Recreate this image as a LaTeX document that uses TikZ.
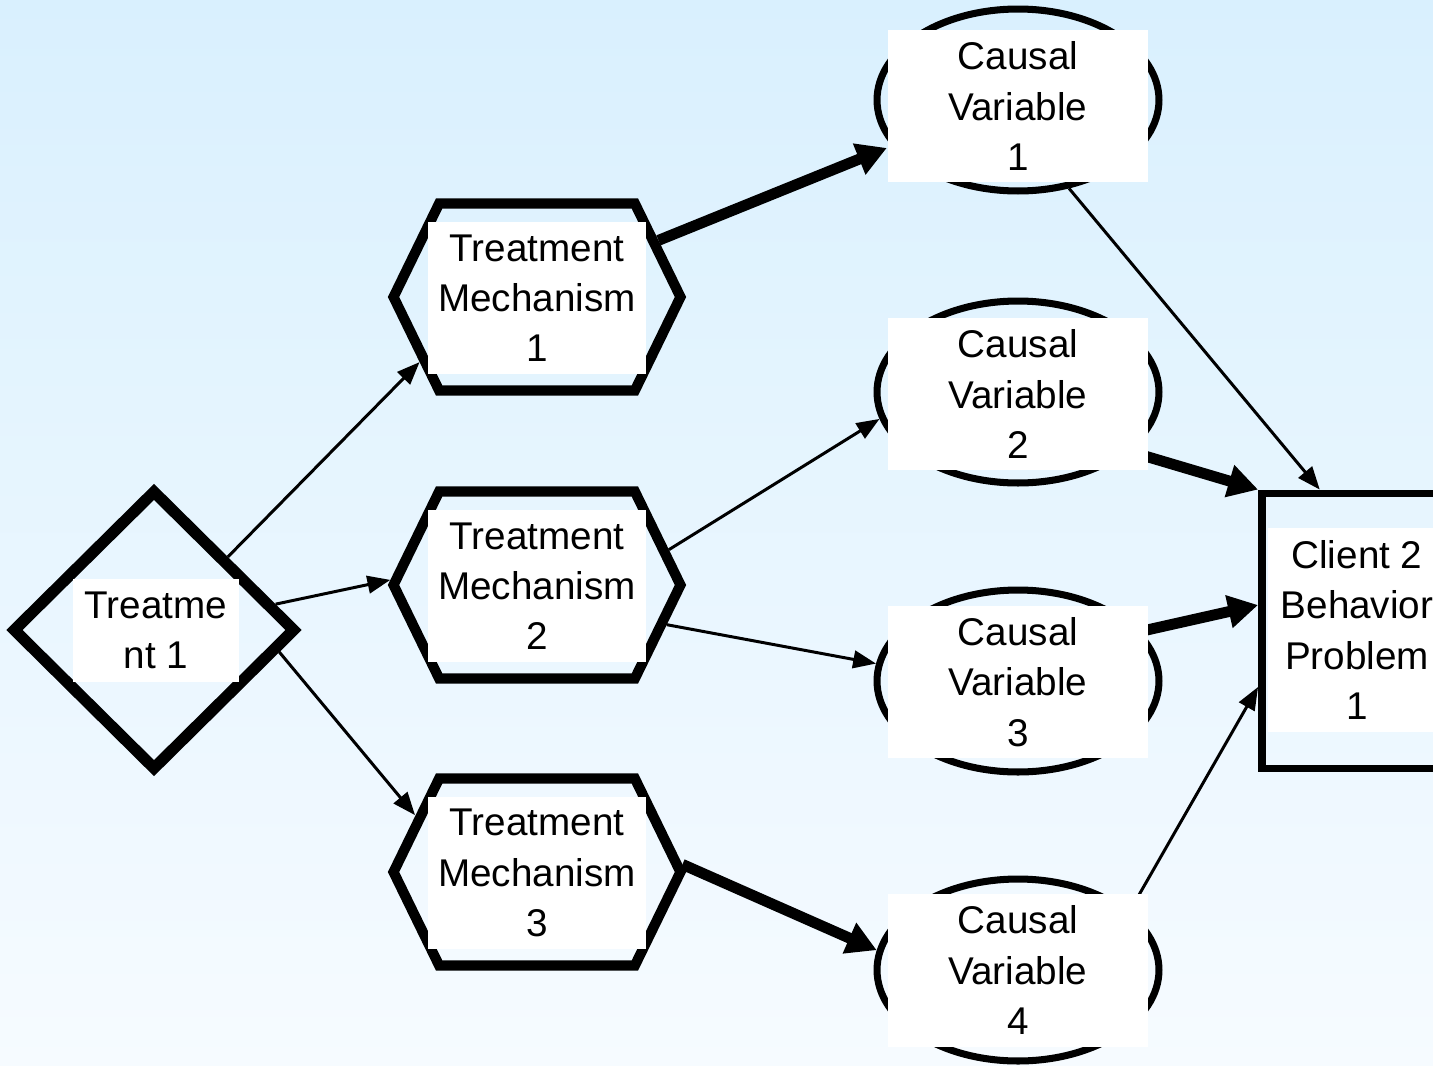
\documentclass[tikz,border=0pt]{standalone}
\usepackage{fontspec}
\setmainfont{Liberation Sans}
\usetikzlibrary{shapes.geometric,shapes.symbols,arrows.meta}

\definecolor{skytop}{RGB}{217,240,254}
\definecolor{skybottom}{RGB}{246,251,255}

\tikzset{
  treatshape/.style={draw, diamond, line width=6.5pt, minimum width=5.68cm, minimum height=5.62cm, inner sep=0pt},
  mechshape/.style={draw, signal, signal to=east and west, signal pointer angle=128, line width=5.8pt, minimum width=5.74cm, minimum height=3.74cm, inner sep=0pt},
  causeshape/.style={draw, ellipse, line width=4pt, minimum width=5.64cm, minimum height=3.64cm, inner sep=0pt},
  problemshape/.style={draw, rectangle, line width=4.5pt, minimum width=3.72cm, minimum height=5.5cm, inner sep=0pt},
  textbox/.style={fill=white, inner sep=0pt, align=center, font=\fontsize{22}{28.6}\selectfont},
  treatbox/.style={textbox, minimum width=3.32cm, minimum height=2.06cm},
  mechbox/.style={textbox, minimum width=4.38cm, minimum height=3.06cm},
  causebox/.style={textbox, minimum width=5.22cm, minimum height=3.06cm},
  problembox/.style={textbox, minimum width=3.56cm, minimum height=4.08cm},
  thinarrow/.style={-{Triangle[length=13pt,width=10pt]}, line width=1.7pt},
  thickarrow/.style={-{Triangle[length=17pt,width=18pt]}, line width=6.2pt},
}

\begin{document}
\begin{tikzpicture}[x=0.02cm, y=-0.02cm]
  % Background
  \useasboundingbox (0,0) rectangle (1433,1065);
  \clip (0,0) rectangle (1433,1065);
  \shade[top color=skytop, bottom color=skybottom] (0,0) rectangle (1433,1065);

  % Shapes
  \node[treatshape] (t1) at (154,630) {};
  \node[mechshape] (tm1) at (537,297) {};
  \node[mechshape] (tm2) at (537,585) {};
  \node[mechshape] (tm3) at (537,872) {};
  \node[causeshape] (cv1) at (1018,100) {};
  \node[causeshape] (cv2) at (1018,392) {};
  \node[causeshape] (cv3) at (1018,681) {};
  \node[causeshape] (cv4) at (1018,970) {};
  \node[problemshape] (cbp) at (1355,631) {};

  % Treatment to mechanisms
  \draw[thinarrow] (t1.north east) -- (tm1.209);
  \draw[thinarrow] (t1.12) -- (tm2.178);
  \draw[thinarrow] (t1.-10) -- (tm3.155);

  % Mechanisms to causal variables
  \draw[thickarrow, shorten >=3pt] (tm1.25.8) -- (cv1.200);
  \draw[thinarrow] (tm2.15.8) -- (cv2.191.6);
  \draw[thinarrow] (tm2.-17) -- (cv3.173.6);
  \draw[thickarrow] (tm3.3) -- (cv4.172);

  % Causal variables to problem
  \draw[thinarrow] (cv1.-60) -- (cbp.104);
  \draw[thickarrow] (cv2.-28.5) -- (cbp.north west);
  \draw[thickarrow] (cv3.22) -- (cbp.165);
  \draw[thinarrow] (cv4.28) -- (cbp.210.4);

  % Labels
  \node[treatbox] (t1-text) at (156,630) {Treatme\\nt 1};
  \node[mechbox] (tm1-text) at (537,298) {Treatment\\Mechanism\\1};
  \node[mechbox] (tm2-text) at (537,586) {Treatment\\Mechanism\\2};
  \node[mechbox] (tm3-text) at (537,873) {Treatment\\Mechanism\\3};
  \node[causebox] (cv1-text) at (1018,106) {Causal\\Variable\\1};
  \node[causebox] (cv2-text) at (1018,394) {Causal\\Variable\\2};
  \node[causebox] (cv3-text) at (1018,682) {Causal\\Variable\\3};
  \node[causebox] (cv4-text) at (1018,970) {Causal\\Variable\\4};
  \node[problembox] (cbp-text) at (1357,630) {Client 2\\Behavior\\Problem\\1};
\end{tikzpicture}
\end{document}
